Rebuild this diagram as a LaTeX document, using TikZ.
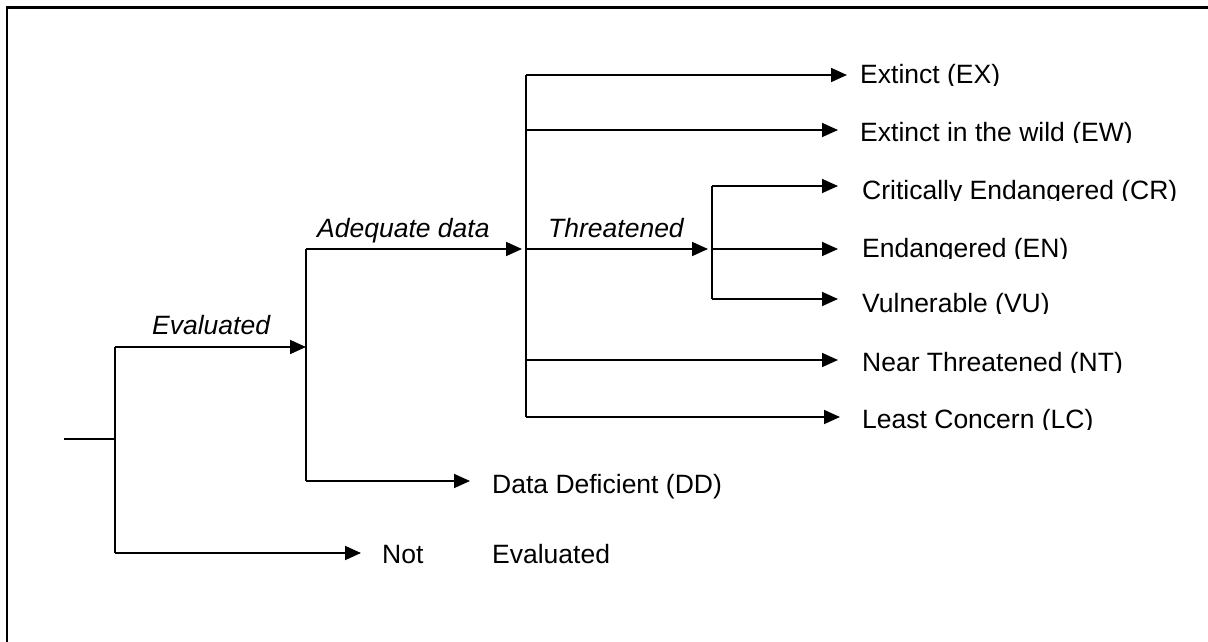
\documentclass[tikz,border=0pt]{standalone}
\usepackage{fontspec}
\setmainfont{Liberation Sans}
\usetikzlibrary{arrows.meta}
\newcommand\cliplabel[4]{\begin{scope}\clip (#2-6,#3-40) rectangle (#2+420,#3+1.5);\node[lbl] (#1) at (#2,#3) {#4};\end{scope}}
\begin{document}
\begin{tikzpicture}[x=1pt,y=-1pt,
  conn/.style={line width=1.7pt},
  arr/.style={conn,-{Triangle[length=16pt,width=14pt]}},
  lbl/.style={inner sep=0pt,anchor=base west,font=\fontsize{26.5}{30}\selectfont},
  ilbl/.style={inner sep=0pt,anchor=base west,font=\fontsize{26.5}{30}\selectfont\itshape},
  frame/.style={line width=2.6pt}]
\useasboundingbox (0,0) rectangle (1208,642);
% frame
\coordinate (fb) at (7,642);
\coordinate (fc) at (7,7.5);
\coordinate (fr) at (1208,7.5);
\draw[frame] (fb) -- (fc) -- (fr);
% labels
\node[ilbl] (evl) at (152,334) {Evaluated};
\node[ilbl] (adq) at (317,237) {Adequate data};
\node[ilbl] (thr) at (548,237) {Threatened};
\cliplabel{ex}{860}{84}{Extinct (EX)}
\cliplabel{ew}{860}{141}{Extinct in the wild (EW)}
\cliplabel{cr}{862}{199}{Critically Endangered (CR)}
\cliplabel{en}{862}{257}{Endangered (EN)}
\cliplabel{vu}{862}{312}{Vulnerable (VU)}
\cliplabel{nt}{862}{371}{Near Threatened (NT)}
\cliplabel{lc}{862}{428}{Least Concern (LC)}
\node[lbl] (dd) at (492,493) {Data Deficient (DD)};
\node[lbl] (not) at (382,563) {Not};
\node[lbl] (nev) at (492,563) {Evaluated};
% junction coordinates
\coordinate (root) at (64,439);
\coordinate (j1) at (115,439);
\coordinate (j1t) at (115,347);
\coordinate (j1b) at (115,553);
\coordinate (j2) at (306,347);
\coordinate (j2t) at (306,249);
\coordinate (j2b) at (306,481);
\coordinate (netip) at (361,553);
\coordinate (ddtip) at (470,481);
\coordinate (j3) at (522,249);
\coordinate (k) at (526,249);
\coordinate (kex) at (526,75);
\coordinate (kew) at (526,130);
\coordinate (knt) at (526,360);
\coordinate (klc) at (526,417);
\coordinate (thtip) at (708,249);
\coordinate (m) at (712,249);
\coordinate (mcr) at (712,186);
\coordinate (mvu) at (712,299);
\coordinate (extip) at (847,75);
\coordinate (ewtip) at (838,130);
\coordinate (crtip) at (838,186);
\coordinate (entip) at (838,249);
\coordinate (vutip) at (838,299);
\coordinate (nttip) at (838,360);
\coordinate (lctip) at (840,417);
% connectors
\draw[conn] (root) -- (j1);
\draw[conn] (j1t) -- (j1b);
\draw[arr] (j1t) -- (j2);
\draw[arr] (j1b) -- (netip);
\draw[conn] (j2t) -- (j2b);
\draw[arr] (j2t) -- (j3);
\draw[arr] (j2b) -- (ddtip);
\draw[conn] (kex) -- (klc);
\draw[arr] (kex) -- (extip);
\draw[arr] (kew) -- (ewtip);
\draw[arr] (k) -- (thtip);
\draw[arr] (knt) -- (nttip);
\draw[arr] (klc) -- (lctip);
\draw[conn] (mcr) -- (mvu);
\draw[arr] (mcr) -- (crtip);
\draw[arr] (m) -- (entip);
\draw[arr] (mvu) -- (vutip);
\end{tikzpicture}
\end{document}
